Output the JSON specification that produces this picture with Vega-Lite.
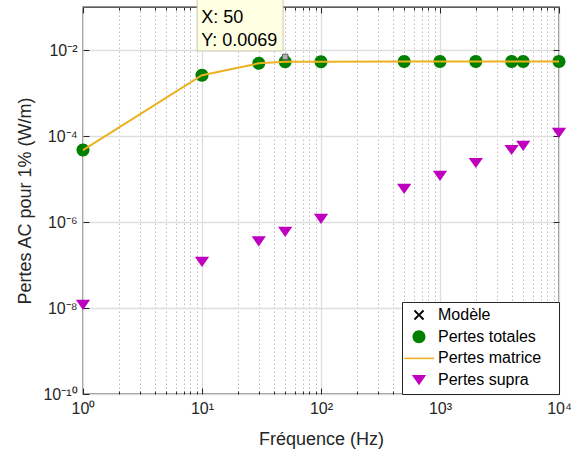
{
  "$schema": "https://vega.github.io/schema/vega-lite/v6.json",
  "width": 476,
  "height": 387,
  "autosize": {"type": "none"},
  "padding": {"left": 83, "top": 7, "right": 20, "bottom": 58},
  "background": "white",
  "config": {
    "font": "Liberation Sans",
    "view": {"stroke": "#262626", "strokeWidth": 1.3},
    "axis": {"domain": false, "labelFont": "Liberation Sans", "titleFont": "Liberation Sans", "labelColor": "#262626", "titleColor": "#262626", "tickColor": "#262626", "titleFontWeight": "normal"}
  },
  "datasets": {
    "pts": [
      {"f": 1, "v": 4.7e-5, "s": "Pertes totales"},
      {"f": 10, "v": 2.6e-3, "s": "Pertes totales"},
      {"f": 30, "v": 4.9e-3, "s": "Pertes totales"},
      {"f": 50, "v": 5.3e-3, "s": "Pertes totales"},
      {"f": 100, "v": 5.35e-3, "s": "Pertes totales"},
      {"f": 500, "v": 5.4e-3, "s": "Pertes totales"},
      {"f": 1000, "v": 5.4e-3, "s": "Pertes totales"},
      {"f": 2000, "v": 5.4e-3, "s": "Pertes totales"},
      {"f": 4000, "v": 5.4e-3, "s": "Pertes totales"},
      {"f": 5000, "v": 5.4e-3, "s": "Pertes totales"},
      {"f": 10000, "v": 5.4e-3, "s": "Pertes totales"},
      {"f": 1, "v": 4.7e-5, "s": "Pertes matrice"},
      {"f": 10, "v": 2.6e-3, "s": "Pertes matrice"},
      {"f": 30, "v": 4.9e-3, "s": "Pertes matrice"},
      {"f": 50, "v": 5.3e-3, "s": "Pertes matrice"},
      {"f": 100, "v": 5.35e-3, "s": "Pertes matrice"},
      {"f": 500, "v": 5.4e-3, "s": "Pertes matrice"},
      {"f": 1000, "v": 5.4e-3, "s": "Pertes matrice"},
      {"f": 2000, "v": 5.4e-3, "s": "Pertes matrice"},
      {"f": 4000, "v": 5.4e-3, "s": "Pertes matrice"},
      {"f": 5000, "v": 5.4e-3, "s": "Pertes matrice"},
      {"f": 10000, "v": 5.4e-3, "s": "Pertes matrice"},
      {"f": 1, "v": 1.18e-8, "s": "Pertes supra"},
      {"f": 10, "v": 1.18e-7, "s": "Pertes supra"},
      {"f": 30, "v": 3.54e-7, "s": "Pertes supra"},
      {"f": 50, "v": 5.9e-7, "s": "Pertes supra"},
      {"f": 100, "v": 1.18e-6, "s": "Pertes supra"},
      {"f": 500, "v": 5.9e-6, "s": "Pertes supra"},
      {"f": 1000, "v": 1.18e-5, "s": "Pertes supra"},
      {"f": 2000, "v": 2.36e-5, "s": "Pertes supra"},
      {"f": 4000, "v": 4.72e-5, "s": "Pertes supra"},
      {"f": 5000, "v": 5.9e-5, "s": "Pertes supra"},
      {"f": 10000, "v": 1.18e-4, "s": "Pertes supra"}
    ],
    "tip": [
      {"xa": 9.1, "xb": 48, "ya": 0.0095, "yb": 0.16, "px": 50, "py": 0.0069, "txt": "X: 50\nY: 0.0069"}
    ]
  },
  "layer": [
    {
      "layer": [
        {
          "data": {"name": "pts"},
          "transform": [{"filter": "datum.s != 'Pertes matrice'"}],
          "mark": {"type": "point", "filled": true, "size": 169, "opacity": 1, "strokeWidth": 0},
          "encoding": {
            "x": {
              "field": "f", "type": "quantitative",
              "scale": {"type": "log", "domain": [1, 10000], "nice": false},
              "axis": {
                "title": "Fréquence (Hz)", "titleFontSize": 18, "titlePadding": 11,
                "values": [1,2,3,4,5,6,7,8,9,10,20,30,40,50,60,70,80,90,100,200,300,400,500,600,700,800,900,1000,2000,3000,4000,5000,6000,7000,8000,9000,10000],
                "labelExpr": "datum.value==1?'10⁰':datum.value==10?'10¹':datum.value==100?'10²':datum.value==1000?'10³':datum.value==10000?'10⁴':''",
                "labelFontSize": 16, "labelPadding": 12, "labelFlush": false, "labelOverlap": false,
                "tickSize": {"condition": {"test": "indexof([1,10,100,1000,10000], datum.value) >= 0", "value": -6}, "value": -3},
                "grid": true,
                "gridColor": {"condition": {"test": "indexof([1,10,100,1000,10000], datum.value) >= 0", "value": "#dedede"}, "value": "#bdbdbd"},
                "gridDash": {"condition": {"test": "indexof([1,10,100,1000,10000], datum.value) >= 0", "value": []}, "value": [1.5, 2.5]},
                "gridWidth": {"condition": {"test": "indexof([1,10,100,1000,10000], datum.value) >= 0", "value": 1.3}, "value": 1}
              }
            },
            "y": {
              "field": "v", "type": "quantitative",
              "scale": {"type": "log", "domain": [1e-10, 0.1], "nice": false},
              "axis": {
                "title": "Pertes AC pour 1% (W/m)", "titleFontSize": 18, "titlePadding": 8,
                "values": [1e-10, 1e-8, 1e-6, 1e-4, 1e-2],
                "labelExpr": "datum.value==1e-10?'10⁻¹⁰':datum.value==1e-8?'10⁻⁸':datum.value==1e-6?'10⁻⁶':datum.value==1e-4?'10⁻⁴':datum.value==1e-2?'10⁻²':''",
                "labelFontSize": 16, "labelPadding": 12, "labelFlush": false, "labelOverlap": false,
                "tickSize": -6, "grid": true, "gridColor": "#dedede", "gridWidth": 1.3
              }
            },
            "color": {
              "field": "s", "type": "nominal",
              "scale": {"domain": ["Modèle", "Pertes totales", "Pertes matrice", "Pertes supra"], "range": ["#000000", "#008000", "#EDB120", "#BF00BF"]},
              "legend": {
                "title": null, "orient": "bottom-right", "offset": 0,
                "strokeColor": "#262626", "fillColor": "white",
                "padding": 5, "rowPadding": 5.7, "labelFontSize": 16, "labelColor": "black", "labelFont": "Liberation Sans",
                "labelExpr": "datum.label + '\u2800'",
                "symbolSize": 169, "symbolOffset": 4, "labelOffset": 11, "symbolStrokeWidth": 0, "symbolOpacity": 1
              }
            },
            "shape": {
              "field": "s", "type": "nominal",
              "scale": {"domain": ["Modèle", "Pertes totales", "Pertes matrice", "Pertes supra"], "range": [
                "M-2.3,0L-2.29,0M2.3,0L2.29,0M-0.8,-0.59L-0.59,-0.8L0,-0.21L0.59,-0.8L0.8,-0.59L0.21,0L0.8,0.59L0.59,0.8L0,0.21L-0.59,0.8L-0.8,0.59L-0.21,0Z",
                "M-2.3,0L-2.29,0M2.3,0L2.29,0M1,0A1,1,0,1,1,-1,0A1,1,0,1,1,1,0Z",
                "M-2.3,-0.12L2.3,-0.12L2.3,0.12L-2.3,0.12Z",
                "M-2.3,0L-2.29,0M2.3,0L2.29,0M-1.1,-0.78L1.1,-0.78L0,0.78Z"]},
              "legend": {"title": null}
            }
          }
        },
        {
          "data": {"name": "pts"},
          "transform": [{"filter": "datum.s == 'Pertes matrice'"}],
          "mark": {"type": "line", "color": "#EDB120", "strokeWidth": 2},
          "encoding": {
            "x": {"field": "f", "type": "quantitative", "scale": {"type": "log", "domain": [1, 10000], "nice": false}},
            "y": {"field": "v", "type": "quantitative", "scale": {"type": "log", "domain": [1e-10, 0.1], "nice": false}}
          }
        },
        {
          "data": {"name": "tip"},
          "mark": {"type": "rect", "fill": "#FFFFE1", "stroke": "#c8c8b4", "strokeWidth": 1},
          "encoding": {
            "x": {"field": "xa", "type": "quantitative", "scale": {"type": "log", "domain": [1, 10000], "nice": false}},
            "x2": {"field": "xb"},
            "y": {"field": "ya", "type": "quantitative", "scale": {"type": "log", "domain": [1e-10, 0.1], "nice": false}},
            "y2": {"field": "yb"}
          }
        },
        {
          "data": {"name": "tip"},
          "mark": {"type": "text", "align": "left", "baseline": "top", "dx": 4, "dy": 11, "fontSize": 18, "lineHeight": 23, "color": "black", "lineBreak": "\n"},
          "encoding": {
            "x": {"field": "xa", "type": "quantitative", "scale": {"type": "log", "domain": [1, 10000], "nice": false}},
            "y": {"field": "yb", "type": "quantitative", "scale": {"type": "log", "domain": [1e-10, 0.1], "nice": false}},
            "text": {"field": "txt"}
          }
        },
        {
          "data": {"name": "tip"},
          "mark": {"type": "point", "shape": "square", "size": 30, "filled": true, "fill": "#b0b0b0", "stroke": "#606060", "strokeWidth": 1, "opacity": 1},
          "encoding": {
            "x": {"field": "px", "type": "quantitative", "scale": {"type": "log", "domain": [1, 10000], "nice": false}},
            "y": {"field": "py", "type": "quantitative", "scale": {"type": "log", "domain": [1e-10, 0.1], "nice": false}}
          }
        }
      ]
    },
    {
      "data": {"name": "tip"},
      "mark": {"type": "point", "opacity": 0},
      "encoding": {
        "x": {
          "field": "px", "type": "quantitative",
          "scale": {"type": "log", "domain": [1, 10000], "nice": false},
          "axis": {
            "orient": "top", "title": null, "labels": false, "grid": false,
            "values": [1,2,3,4,5,6,7,8,9,10,20,30,40,50,60,70,80,90,100,200,300,400,500,600,700,800,900,1000,2000,3000,4000,5000,6000,7000,8000,9000,10000],
            "tickSize": {"condition": {"test": "indexof([1,10,100,1000,10000], datum.value) >= 0", "value": -6}, "value": -3}
          }
        },
        "y": {
          "field": "py", "type": "quantitative",
          "scale": {"type": "log", "domain": [1e-10, 0.1], "nice": false},
          "axis": {"orient": "right", "title": null, "labels": false, "grid": false, "values": [1e-10, 1e-8, 1e-6, 1e-4, 1e-2], "tickSize": -6}
        }
      }
    }
  ],
  "resolve": {"axis": {"x": "independent", "y": "independent"}}
}
